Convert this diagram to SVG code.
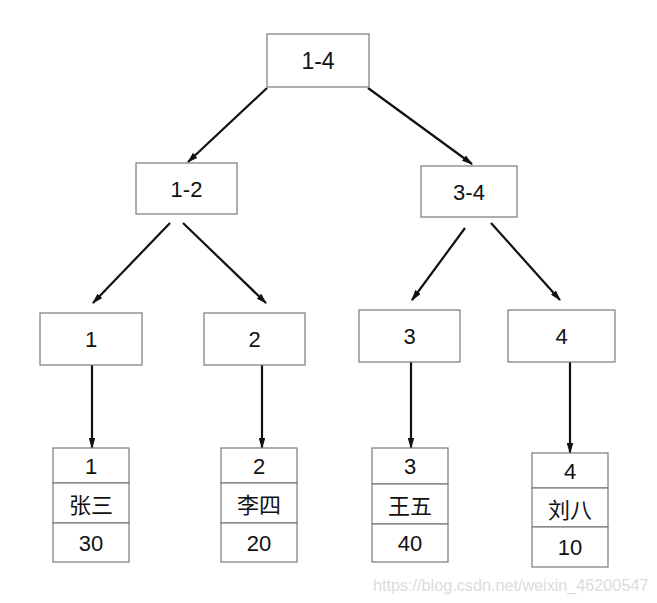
<svg xmlns="http://www.w3.org/2000/svg" width="657" height="603" viewBox="0 0 657 603">
<defs>
<style>
.box{fill:#fff;stroke:#7a7a7a;stroke-width:1.2}
.t{font-family:"Liberation Sans",Arial,sans-serif;font-size:22px;fill:#111;text-anchor:middle;dominant-baseline:central}
.c{font-family:"Noto Sans CJK SC","Liberation Sans",sans-serif;font-size:22px;fill:#111;text-anchor:middle;dominant-baseline:central}
.e{stroke:#111;stroke-width:2.2;fill:none;marker-end:url(#ah)}
.wm{font-family:"Liberation Sans",Arial,sans-serif;font-size:16.2px;fill:#dcdcdc}
</style>
<marker id="ah" viewBox="0 0 10 6" refX="9" refY="3" markerWidth="5" markerHeight="3" orient="auto" markerUnits="strokeWidth">
<path d="M0,0 L10,3 L0,6 Z" fill="#111"/>
</marker>
</defs>
<rect width="657" height="603" fill="#fff"/>
<g id="connectors">
<line class="e" x1="267" y1="88" x2="188" y2="162"/>
<line class="e" x1="368" y1="88" x2="472" y2="164"/>
<line class="e" x1="170" y1="223" x2="93" y2="303"/>
<line class="e" x1="183" y1="223" x2="266" y2="303"/>
<line class="e" x1="465" y1="228" x2="412" y2="300"/>
<line class="e" x1="491" y1="223" x2="560" y2="300"/>
<line class="e" x1="92" y1="365" x2="92" y2="448"/>
<line class="e" x1="262" y1="365" x2="262" y2="448"/>
<line class="e" x1="411" y1="362" x2="411" y2="448"/>
<line class="e" x1="570" y1="362" x2="570" y2="453"/>
</g>
<g id="n14"><rect class="box" x="267" y="34" width="102" height="53"/><text class="t" x="318" y="61" style="font-size:23px">1-4</text></g>
<g id="n12"><rect class="box" x="136" y="163" width="101" height="51"/><text class="t" x="186.5" y="189">1-2</text></g>
<g id="n34"><rect class="box" x="421" y="166" width="96" height="51"/><text class="t" x="469" y="192">3-4</text></g>
<g id="n1"><rect class="box" x="40" y="313" width="102" height="52"/><text class="t" x="91" y="339">1</text></g>
<g id="n2"><rect class="box" x="204" y="313" width="101" height="52"/><text class="t" x="254.5" y="339">2</text></g>
<g id="n3"><rect class="box" x="359" y="310" width="101" height="52"/><text class="t" x="409.5" y="336">3</text></g>
<g id="n4"><rect class="box" x="508" y="310" width="107" height="52"/><text class="t" x="561.5" y="336">4</text></g>
<g id="leaf1">
<rect class="box" x="53" y="448" width="76" height="35"/><rect class="box" x="53" y="483" width="76" height="40"/><rect class="box" x="53" y="523" width="76" height="39"/>
<text class="t" x="91" y="466">1</text><text class="c" x="91" y="503">张三</text><text class="t" x="91" y="543">30</text>
</g>
<g id="leaf2">
<rect class="box" x="221" y="448" width="76" height="35"/><rect class="box" x="221" y="483" width="76" height="40"/><rect class="box" x="221" y="523" width="76" height="39"/>
<text class="t" x="259" y="466">2</text><text class="c" x="259" y="503">李四</text><text class="t" x="259" y="543">20</text>
</g>
<g id="leaf3">
<rect class="box" x="372" y="448" width="76" height="36"/><rect class="box" x="372" y="484" width="76" height="40"/><rect class="box" x="372" y="524" width="76" height="38"/>
<text class="t" x="410" y="466">3</text><text class="c" x="410" y="504">王五</text><text class="t" x="410" y="543">40</text>
</g>
<g id="leaf4">
<rect class="box" x="532" y="453" width="76" height="35"/><rect class="box" x="532" y="488" width="76" height="39"/><rect class="box" x="532" y="527" width="76" height="40"/>
<text class="t" x="570" y="471">4</text><text class="c" x="570" y="508">刘八</text><text class="t" x="570" y="547">10</text>
</g>
<text class="wm" x="373" y="591">https://blog.csdn.net/weixin_46200547</text>
</svg>
